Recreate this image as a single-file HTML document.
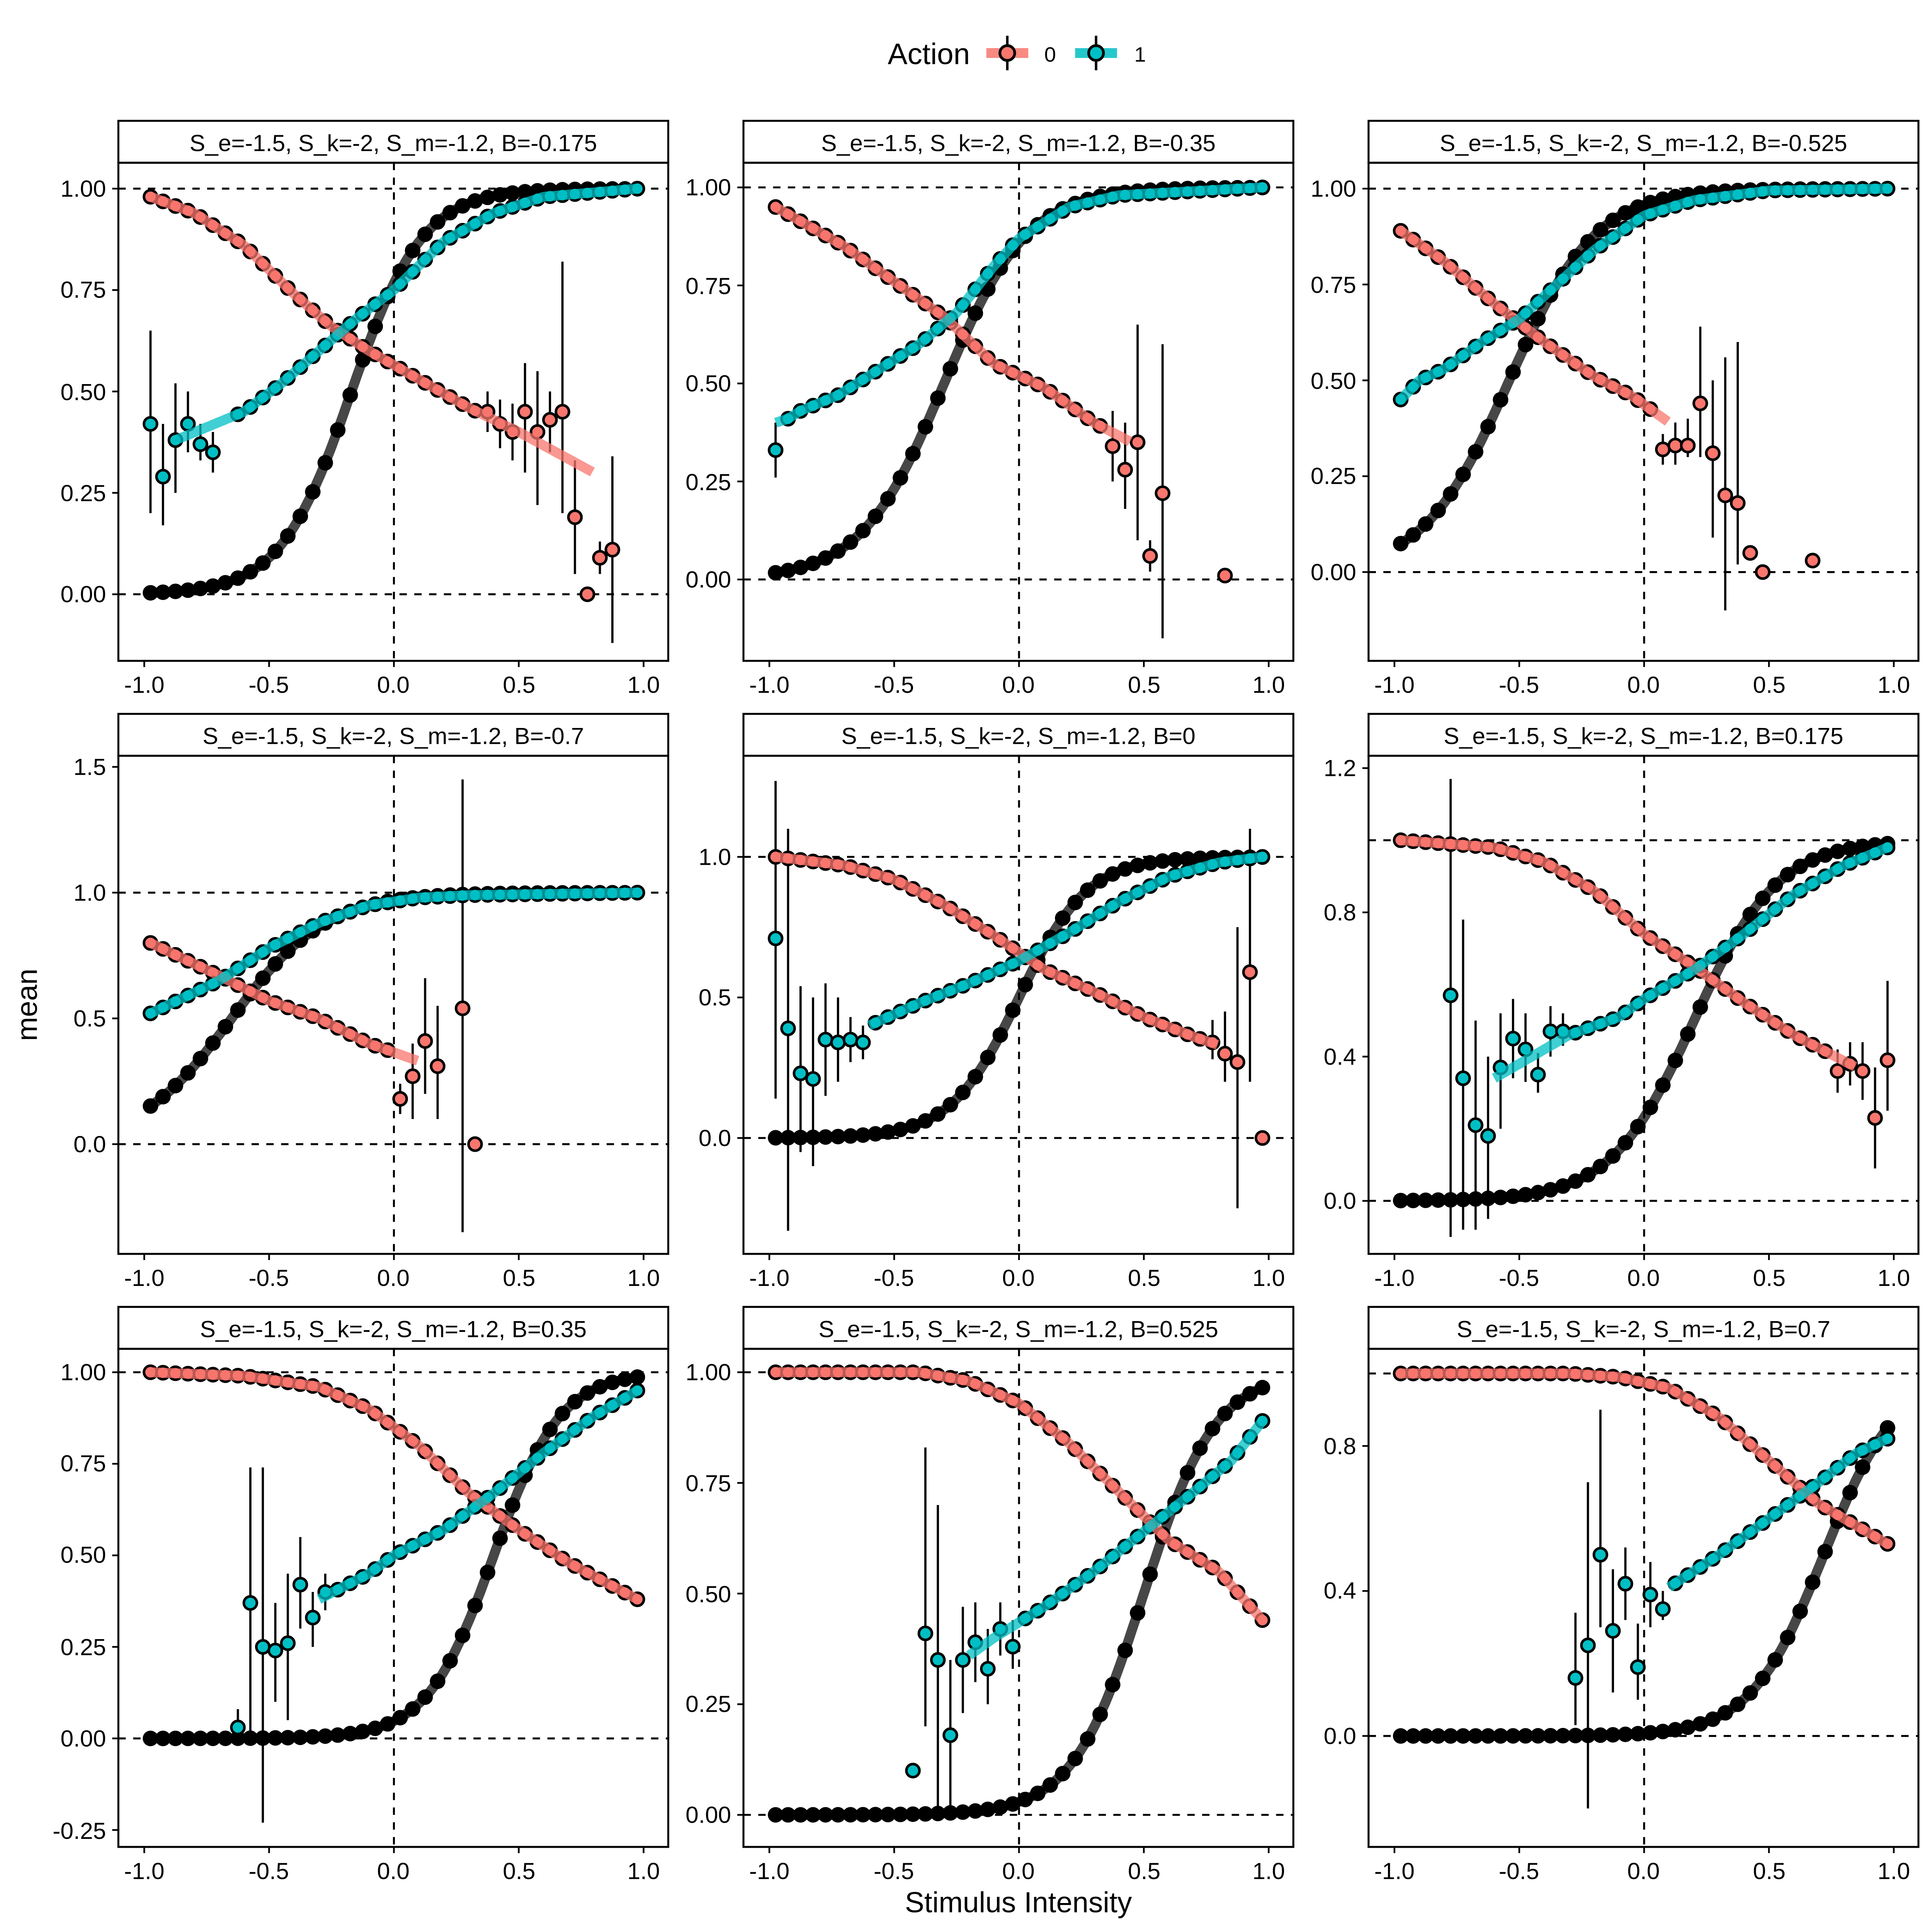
<!DOCTYPE html>
<html><head><meta charset="utf-8"><style>
html,body{margin:0;padding:0;background:#fff;overflow:hidden;width:100vw;height:100vh;}
svg{display:block;width:100vw;height:100vh;}
text{font-family:"Liberation Sans",Arial,sans-serif;fill:#000;}
.yt{font-size:19px;text-anchor:end;}
.xt{font-size:19px;text-anchor:middle;}
.st{font-size:19px;text-anchor:middle;}
</style></head><body>
<svg id="s" viewBox="0 0 1567 1567" preserveAspectRatio="none" xmlns="http://www.w3.org/2000/svg">
<rect width="1567" height="1567" fill="#fff"/>
<g id="g"></g>
<!-- legend -->
<text x="720" y="52" style="font-size:24px">Action</text>
<line x1="800" y1="43" x2="834" y2="43" stroke="#F8766D" stroke-width="8" opacity="0.85"/>
<line x1="817" y1="29" x2="817" y2="57" stroke="#000" stroke-width="2"/>
<circle cx="817" cy="43" r="6" fill="#F8766D" stroke="#000" stroke-width="2.2"/>
<text x="847" y="50" style="font-size:17px">0</text>
<line x1="872" y1="43" x2="906" y2="43" stroke="#00BFC4" stroke-width="8" opacity="0.85"/>
<line x1="889" y1="29" x2="889" y2="57" stroke="#000" stroke-width="2"/>
<circle cx="889" cy="43" r="6" fill="#00BFC4" stroke="#000" stroke-width="2.2"/>
<text x="920" y="50" style="font-size:17px">1</text>
<text x="826" y="1551" style="font-size:23.5px" text-anchor="middle">Stimulus Intensity</text>
<text transform="translate(30,815) rotate(-90)" style="font-size:23.5px" text-anchor="middle">mean</text>
<!-- strips -->
<g transform="translate(0,1.5)">
<text class="st" x="319" y="121">S_e=-1.5, S_k=-2, S_m=-1.2, B=-0.175</text>
<text class="st" x="826" y="121">S_e=-1.5, S_k=-2, S_m=-1.2, B=-0.35</text>
<text class="st" x="1333" y="121">S_e=-1.5, S_k=-2, S_m=-1.2, B=-0.525</text>
<text class="st" x="319" y="602">S_e=-1.5, S_k=-2, S_m=-1.2, B=-0.7</text>
<text class="st" x="826" y="602">S_e=-1.5, S_k=-2, S_m=-1.2, B=0</text>
<text class="st" x="1333" y="602">S_e=-1.5, S_k=-2, S_m=-1.2, B=0.175</text>
<text class="st" x="319" y="1083">S_e=-1.5, S_k=-2, S_m=-1.2, B=0.35</text>
<text class="st" x="826" y="1083">S_e=-1.5, S_k=-2, S_m=-1.2, B=0.525</text>
<text class="st" x="1333" y="1083">S_e=-1.5, S_k=-2, S_m=-1.2, B=0.7</text>
</g>
<!-- y ticks -->
<g class="yt" transform="translate(0,1.5)">
<text x="86" y="158">1.00</text><text x="86" y="240">0.75</text><text x="86" y="323">0.50</text><text x="86" y="405">0.25</text><text x="86" y="487">0.00</text>
<text x="593" y="157">1.00</text><text x="593" y="237">0.75</text><text x="593" y="316">0.50</text><text x="593" y="396">0.25</text><text x="593" y="475">0.00</text>
<text x="1100" y="158">1.00</text><text x="1100" y="236">0.75</text><text x="1100" y="314">0.50</text><text x="1100" y="391">0.25</text><text x="1100" y="469">0.00</text>
<text x="86" y="627">1.5</text><text x="86" y="729">1.0</text><text x="86" y="831">0.5</text><text x="86" y="933">0.0</text>
<text x="593" y="700">1.0</text><text x="593" y="814">0.5</text><text x="593" y="928">0.0</text>
<text x="1100" y="628">1.2</text><text x="1100" y="745">0.8</text><text x="1100" y="862">0.4</text><text x="1100" y="979">0.0</text>
<text x="86" y="1118">1.00</text><text x="86" y="1192">0.75</text><text x="86" y="1266">0.50</text><text x="86" y="1341">0.25</text><text x="86" y="1415">0.00</text><text x="86" y="1490">-0.25</text>
<text x="593" y="1118">1.00</text><text x="593" y="1208">0.75</text><text x="593" y="1298">0.50</text><text x="593" y="1387">0.25</text><text x="593" y="1477">0.00</text>
<text x="1100" y="1178">0.8</text><text x="1100" y="1295">0.4</text><text x="1100" y="1413">0.0</text>
</g>
<g class="xt" transform="translate(0,1)">
<text x="117" y="561">-1.0</text><text x="218" y="561">-0.5</text><text x="319" y="561">0.0</text><text x="421" y="561">0.5</text><text x="522" y="561">1.0</text>
<text x="624" y="561">-1.0</text><text x="725" y="561">-0.5</text><text x="826" y="561">0.0</text><text x="928" y="561">0.5</text><text x="1029" y="561">1.0</text>
<text x="1131" y="561">-1.0</text><text x="1232" y="561">-0.5</text><text x="1333" y="561">0.0</text><text x="1435" y="561">0.5</text><text x="1536" y="561">1.0</text>
<text x="117" y="1042">-1.0</text><text x="218" y="1042">-0.5</text><text x="319" y="1042">0.0</text><text x="421" y="1042">0.5</text><text x="522" y="1042">1.0</text>
<text x="624" y="1042">-1.0</text><text x="725" y="1042">-0.5</text><text x="826" y="1042">0.0</text><text x="928" y="1042">0.5</text><text x="1029" y="1042">1.0</text>
<text x="1131" y="1042">-1.0</text><text x="1232" y="1042">-0.5</text><text x="1333" y="1042">0.0</text><text x="1435" y="1042">0.5</text><text x="1536" y="1042">1.0</text>
<text x="117" y="1523">-1.0</text><text x="218" y="1523">-0.5</text><text x="319" y="1523">0.0</text><text x="421" y="1523">0.5</text><text x="522" y="1523">1.0</text>
<text x="624" y="1523">-1.0</text><text x="725" y="1523">-0.5</text><text x="826" y="1523">0.0</text><text x="928" y="1523">0.5</text><text x="1029" y="1523">1.0</text>
<text x="1131" y="1523">-1.0</text><text x="1232" y="1523">-0.5</text><text x="1333" y="1523">0.0</text><text x="1435" y="1523">0.5</text><text x="1536" y="1523">1.0</text>
</g>
</svg>
<script>
var NS="http://www.w3.org/2000/svg",G=document.getElementById("g");
function el(t,a,p){var e=document.createElementNS(NS,t);for(var k in a)e.setAttribute(k,a[k]);(p||G).appendChild(e);return e;}
var P=[
{c:0,r:0,y1:153,y0:482,yt:[1,.75,.5,.25,0],bk:[-0.17,7],
 ra:[[-0.975,.98],[-0.8,.94],[-0.6,.86],[-0.4,.74],[-0.25,.66],[-0.1,.6],[0.1,.53],[0.3,.46],[0.5,.4],[0.8,.3]],rs:0.325,rl:0.8,
 rn:[[0.375,.45,.40,.50],[0.425,.42,.36,.48],[0.475,.40,.33,.47],[0.525,.45,.30,.57],[0.575,.40,.22,.55],[0.625,.43,.35,.50],[0.675,.45,.2,.82],[0.725,.19,.05,.33],[0.775,0,0,0],[0.825,.09,.05,.13],[0.875,.11,-.12,.34]],
 ca:[[-0.875,.38],[-0.6,.45],[-0.45,.52],[-0.3,.6],[-0.15,.68],[0,.75],[0.2,.87],[0.4,.94],[0.6,.98],[0.975,1]],cs:-0.625,cl:-0.875,
 cn:[[-0.975,.42,.2,.65],[-0.925,.29,.17,.42],[-0.875,.38,.25,.52],[-0.825,.42,.35,.5],[-0.775,.37,.33,.42],[-0.725,.35,.3,.40]]},
{c:1,r:0,y1:152,y0:470,yt:[1,.75,.5,.25,0],bk:[-0.3,6],
 ra:[[-0.975,.95],[-0.7,.85],[-0.5,.76],[-0.3,.67],[-0.1,.55],[0.1,.49],[0.3,.4],[0.45,.35]],rs:0.325,rl:0.45,
 rn:[[0.375,.34,.25,.43],[0.425,.28,.18,.4],[0.475,.35,.1,.65],[0.525,.06,.02,.1],[0.575,.22,-.15,.6],[0.825,.01,0,.02]],
 ca:[[-0.975,.4],[-0.925,.41],[-0.875,.43],[-0.8,.45],[-0.725,.47],[-0.6,.52],[-0.4,.6],[-0.25,.68],[-0.1,.8],[0,.87],[0.2,.95],[0.4,.98],[0.975,1]],cs:-0.925,cl:-0.975,
 cn:[[-0.975,.33,.26,.4]]},
{c:2,r:0,y1:153,y0:464,yt:[1,.75,.5,.25,0],bk:[-0.54,5.8],
 ra:[[-0.975,.89],[-0.8,.81],[-0.6,.7],[-0.4,.6],[-0.2,.51],[-0.05,.46],[0.1,.39]],rs:0.025,rl:0.1,
 rn:[[0.075,.32,.28,.36],[0.125,.33,.28,.39],[0.175,.33,.3,.4],[0.225,.44,.3,.64],[0.275,.31,.09,.5],[0.325,.2,-.1,.56],[0.375,.18,0.02,.6],[0.425,.05,.03,.07],[0.475,0,0,0],[0.675,.03,.02,.04]],
 ca:[[-0.975,.45],[-0.9,.5],[-0.8,.53],[-0.65,.6],[-0.5,.66],[-0.35,.75],[-0.2,.84],[0,.93],[0.2,.97],[0.5,.995],[0.975,1]],cs:-0.975,cl:-0.975,cn:[]},
{c:0,r:1,y1:724,y0:928,yt:[1.5,1,.5,0],bk:[-0.65,5.3],
 ra:[[-0.975,.8],[-0.7,.67],[-0.5,.57],[-0.3,.5],[-0.1,.4],[0.1,.33]],rs:-0.025,rl:0.1,
 rn:[[0.025,.18,.12,.24],[0.075,.27,.1,.4],[0.125,.41,.2,.66],[0.175,.31,.1,.55],[0.275,.54,-.35,1.45],[0.325,0,0,0]],
 ca:[[-0.975,.52],[-0.7,.65],[-0.5,.78],[-0.3,.88],[-0.1,.95],[0.1,.98],[0.3,.99],[0.975,1]],cs:-0.975,cl:-0.975,cn:[]},
{c:1,r:1,y1:695,y0:923,yt:[1,.5,0],bk:[0,7.3],
 ra:[[-0.975,1],[-0.7,.97],[-0.5,.92],[-0.3,.83],[-0.1,.72],[0.1,.6],[0.3,.52],[0.5,.43],[0.7,.36],[0.9,.3]],rs:0.725,rl:0.8,
 rn:[[0.775,.34,.28,.42],[0.825,.3,.2,.45],[0.875,.27,-.25,.75],[0.925,.59,.2,1.1],[0.975,0,0,0]],
 ca:[[-0.6,.4],[-0.4,.48],[-0.2,.55],[0,.63],[0.2,.73],[0.4,.84],[0.6,.93],[0.8,.98],[0.975,1]],cs:-0.575,cl:-0.6,
 cn:[[-0.975,.71,.14,1.27],[-0.925,.39,-.33,1.1],[-0.875,.23,-.05,.54],[-0.825,.21,-.1,.5],[-0.775,.35,.15,.55],[-0.725,.34,.2,.5],[-0.675,.35,.27,.43],[-0.625,.34,.28,.4]]},
{c:2,r:1,y1:681.5,y0:974,yt:[1.2,.8,.4,0],bk:[0.2,6],
 ra:[[-0.975,1],[-0.6,.98],[-0.4,.94],[-0.2,.86],[0,.74],[0.2,.65],[0.4,.55],[0.6,.46],[0.85,.37]],rs:0.725,rl:0.85,
 rn:[[0.775,.36,.3,.42],[0.825,.38,.32,.44],[0.875,.36,.28,.44],[0.925,.23,.09,.37],[0.975,.39,.25,.61]],
 ca:[[-0.6,.34],[-0.3,.46],[-0.1,.51],[0,.56],[0.2,.64],[0.4,.74],[0.6,.85],[0.8,.93],[0.975,.98]],cs:-0.275,cl:-0.6,
 cn:[[-0.775,.57,-.1,1.17],[-0.725,.34,-.08,.78],[-0.675,.21,-.08,.5],[-0.625,.18,-.05,.4],[-0.575,.37,.2,.52],[-0.525,.45,.34,.56],[-0.475,.42,.33,.52],[-0.425,.35,.3,.41],[-0.375,.47,.4,.54],[-0.325,.47,.43,.52]]},
{c:0,r:2,y1:1113,y0:1410,yt:[1,.75,.5,.25,0,-.25],bk:[0.4,7.5],
 ra:[[-0.975,1],[-0.6,.99],[-0.3,.96],[-0.1,.9],[0.1,.8],[0.3,.67],[0.5,.57],[0.7,.48],[0.975,.38]],rs:0.975,rl:0.975,rn:[],
 ca:[[-0.3,.38],[-0.1,.45],[0,.5],[0.2,.57],[0.4,.67],[0.6,.78],[0.8,.88],[0.975,.95]],cs:-0.225,cl:-0.3,
 cn:[[-0.625,.03,-.02,.08],[-0.575,.37,0,.74],[-0.525,.25,-.23,.74],[-0.475,.24,.1,.37],[-0.425,.26,.05,.45],[-0.375,.42,.3,.55],[-0.325,.33,.25,.4],[-0.275,.4,.35,.45]]},
{c:1,r:2,y1:1113,y0:1472,yt:[1,.75,.5,.25,0],bk:[0.5,7],
 ra:[[-0.975,1],[-0.4,1],[-0.2,.98],[0,.93],[0.2,.84],[0.4,.73],[0.6,.62],[0.8,.55],[0.975,.44]],rs:0.975,rl:0.975,rn:[],
 ca:[[-0.2,.36],[-0.1,.4],[0.1,.47],[0.3,.55],[0.5,.64],[0.7,.73],[0.85,.8],[0.975,.89]],cs:0.025,cl:-0.2,
 cn:[[-0.425,.1,.1,.1],[-0.375,.41,.2,.83],[-0.325,.35,0,.7],[-0.275,.18,0,.35],[-0.225,.35,.23,.47],[-0.175,.39,.3,.48],[-0.125,.33,.25,.42],[-0.075,.42,.36,.48],[-0.025,.38,.33,.44]]},
{c:2,r:2,y1:1114,y0:1408,yt:[.8,.4,0],bk:[0.72,6.8],
 ra:[[-0.975,1],[-0.3,1],[-0.1,.99],[0.1,.96],[0.3,.88],[0.5,.76],[0.7,.64],[0.85,.58],[0.975,.53]],rs:0.975,rl:0.975,rn:[],
 ca:[[0.1,.41],[0.3,.5],[0.5,.6],[0.7,.7],[0.85,.78],[0.975,.82]],cs:0.125,cl:0.1,
 cn:[[-0.275,.16,.03,.34],[-0.225,.25,-.2,.7],[-0.175,.5,.3,.9],[-0.125,.29,.12,.46],[-0.075,.42,.32,.52],[-0.025,.19,.1,.31],[0.025,.39,.3,.48],[0.075,.35,.32,.4]]}
];
function ip(a,x){if(x<=a[0][0])return a[0][1];for(var i=1;i<a.length;i++){if(x<=a[i][0]){var t=(x-a[i-1][0])/(a[i][0]-a[i-1][0]);return a[i-1][1]+t*(a[i][1]-a[i-1][1]);}}return a[a.length-1][1];}
var rowT=[132,613,1094],colL=[96,603,1110];
P.forEach(function(p,idx){
 var L=colL[p.c],T=rowT[p.r],W=446,H=404,ox=L-96;
 var X=function(x){return ox+319.5+202.5*x;},s=(p.y0-p.y1),Y=function(v){return p.y0-s*v;};
 el("rect",{x:L,y:T-34,width:W,height:34,fill:"#fff",stroke:"#000","stroke-width":1.6});
 var cid="c"+idx;var cp=el("clipPath",{id:cid});el("rect",{x:L,y:T,width:W,height:H},cp);
 var g=el("g",{"clip-path":"url(#"+cid+")"});
 var dash={stroke:"#000","stroke-width":1.6,"stroke-dasharray":"6,6",fill:"none"};
 el("line",Object.assign({x1:L,x2:L+W,y1:Y(0),y2:Y(0)},dash),g);
 el("line",Object.assign({x1:L,x2:L+W,y1:Y(1),y2:Y(1)},dash),g);
 el("line",Object.assign({x1:X(0),x2:X(0),y1:T,y2:T+H},dash),g);
 var xs=[];for(var i=0;i<40;i++)xs.push(-0.975+0.05*i);
 var bk=function(x){return 1/(1+Math.exp(-p.bk[1]*(x-p.bk[0])));};
 var pts=[];for(var x=-0.975;x<=0.976;x+=0.01)pts.push(X(x).toFixed(1)+","+Y(bk(x)).toFixed(1));
 el("polyline",{points:pts.join(" "),fill:"none",stroke:"#000","stroke-opacity":0.72,"stroke-width":8},g);
 xs.forEach(function(x){el("circle",{cx:X(x),cy:Y(bk(x)),r:6.3,fill:"#000"},g);});
 p.rn.concat(p.cn).forEach(function(e){if(e[3]-e[2]>0.001)el("line",{x1:X(e[0]),x2:X(e[0]),y1:Y(e[2]),y2:Y(e[3]),stroke:"#000","stroke-width":1.8},g);});
 function pt(x,v,col){el("circle",{cx:X(x),cy:Y(v),r:5.3,fill:col,stroke:"#000","stroke-width":2.1},g);}
 xs.forEach(function(x){if(x<=p.rs+1e-6)pt(x,ip(p.ra,x),"#F8766D");});
 p.rn.forEach(function(e){pt(e[0],e[1],"#F8766D");});
 xs.forEach(function(x){if(x>=p.cs-1e-6)pt(x,ip(p.ca,x),"#00BFC4");});
 p.cn.forEach(function(e){pt(e[0],e[1],"#00BFC4");});
 var rp=[];for(var x=-0.975;x<=p.rl+1e-6;x+=0.01)rp.push(X(x).toFixed(1)+","+Y(ip(p.ra,x)).toFixed(1));
 el("polyline",{points:rp.join(" "),fill:"none",stroke:"#F8766D","stroke-opacity":0.75,"stroke-width":8},g);
 var cpn=[];for(var x=p.cl;x<=0.976;x+=0.01)cpn.push(X(x).toFixed(1)+","+Y(ip(p.ca,x)).toFixed(1));
 el("polyline",{points:cpn.join(" "),fill:"none",stroke:"#00BFC4","stroke-opacity":0.75,"stroke-width":8},g);
 el("rect",{x:L,y:T,width:W,height:H,fill:"none",stroke:"#000","stroke-width":1.6});
 p.yt.forEach(function(v){el("line",{x1:L-5,x2:L,y1:Y(v),y2:Y(v),stroke:"#000","stroke-width":1.4});});
 [-1,-0.5,0,0.5,1].forEach(function(v){el("line",{x1:X(v),x2:X(v),y1:T+H,y2:T+H+5,stroke:"#000","stroke-width":1.4});});
});
</script>
</body></html>
